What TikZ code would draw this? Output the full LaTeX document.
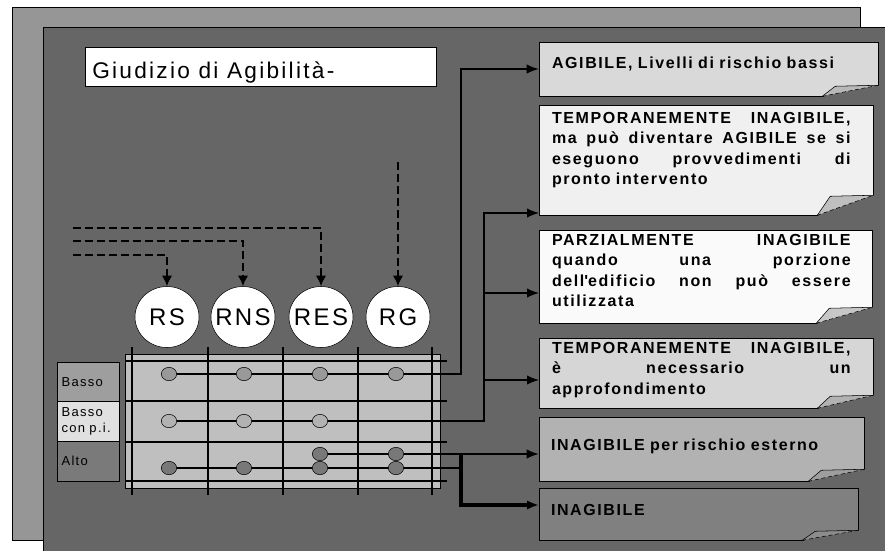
\documentclass[tikz,border=0pt]{standalone}
\usepackage{fontspec}
\setmainfont{Liberation Sans}[LetterSpace=10]
\usetikzlibrary{arrows.meta,calc,fit,shapes.geometric}

% curled lower right corner of a result box: node, curl height, flap colour
\newcommand\curl[3]{%
  \fill[black!60] ($(#1.south east)+(-56,2)$) -- ($(#1.south east)+(-43,-#2)$) -- ($(#1.south east)+(2,-#2-1)$) -- ($(#1.south east)+(2,2)$) -- cycle;
  \fill[#3] ($(#1.south east)+(-56,0)$) -- ($(#1.south east)+(-43,-#2)$) -- ($(#1.south east)+(0,-#2-1)$) -- cycle;
  \draw ($(#1.south east)+(-56,0)$) -- ($(#1.south east)+(-43,-#2)$) -- ($(#1.south east)+(0,-#2-1)$);
  \draw[densely dashed] ($(#1.south east)+(-56,0)$) -- ($(#1.south east)+(0,-#2-1)$);
}

\begin{document}
\begin{tikzpicture}[x=0.75pt,y=-0.75pt,>={Latex[length=9pt,width=7pt]},
  result/.style={draw,fill=#1,inner sep=0pt},
  resulttext/.style={anchor=north west,inner sep=0pt,text width=224pt,align=left,
    font=\fontsize{12}{15.4}\selectfont\bfseries},
  risk/.style={ellipse,draw,fill=white,minimum width=48pt,minimum height=45.75pt,
    inner sep=0pt,font=\fontsize{18}{20}\selectfont},
  level/.style={draw,fill=#1,anchor=north west,minimum width=46.5pt,inner xsep=3.25pt,
    text width=40pt,align=left,font=\fontsize{9.75}{12}\selectfont},
  dot/.style={ellipse,draw,fill=#1,minimum width=11.5pt,minimum height=10pt,inner sep=0pt},
  gridline/.style={line width=0.9pt},
  wire/.style={line width=0.9pt},
  feed/.style={line width=2pt,dash pattern=on 6pt off 3pt,-{Latex[length=8pt,width=8pt]}}]
\useasboundingbox (0,0) rectangle (885,550);

% panels
\draw[fill=black!41] (12,7) rectangle (860,540);
\draw[fill=black!60] (43,27) rectangle (900,560);

\node[draw,fill=white,fit={(85,47) (436,86)},inner sep=0pt] (title) {};
\node[anchor=base west,inner sep=0pt,font=\fontsize{17}{20}\selectfont] (titletext) at (92,78) {Giudizio di Agibilità-};

% result boxes
\node[result=black!15,fit={(539,42) (878,96)}] (b1) {};
\curl{b1}{10}{black!28}
\node[result=black!6,fit={(539,105) (873,215)}] (b2) {};
\curl{b2}{19}{black!25}
\node[result=black!2,fit={(539,230) (872,323)}] (b3) {};
\curl{b3}{15}{black!22}
\node[result=black!16,fit={(539,338) (873,408)}] (b4) {};
\curl{b4}{12}{black!30}
\node[result=black!30,fit={(539,417) (864,481)}] (b5) {};
\curl{b5}{11}{black!38}
\node[result=black!50,fit={(539,488) (858,540)}] (b6) {};
\curl{b6}{9}{black!45}

\node[resulttext] (t1) at ($(b1.north west)+(13,15)$) {AGIBILE, Livelli di rischio bassi};
\node[resulttext] (t2) at ($(b2.north west)+(13,7)$) {TEMPORANEMENTE\hfill INAGIBILE,\\
  ma\hfill può\hfill diventare\hfill AGIBILE\hfill se\hfill si\\
  eseguono\hfill provvedimenti\hfill di\\
  pronto intervento};
\node[resulttext] (t3) at ($(b3.north west)+(13,4)$) {PARZIALMENTE\hfill INAGIBILE\\
  quando\hfill una\hfill porzione\\
  dell\textquotesingle edificio\hfill non\hfill può\hfill essere\\
  utilizzata};
\node[resulttext] (t4) at ($(b4.north west)+(13,4)$) {TEMPORANEMENTE\hfill INAGIBILE,\\
  è\hfill necessario\hfill un\\
  approfondimento};
\node[resulttext] (t5) at ($(b5.north west)+(12,22)$) {INAGIBILE per rischio esterno};
\node[resulttext] (t6) at ($(b6.north west)+(12,16)$) {INAGIBILE};

% matrix of risk levels
\node[draw,fill=black!25,fit={(125,354) (440,488)},inner sep=0pt] (matrix) {};
\foreach \x in {132,208,283,358,432}
  \draw[gridline] (\x,347) -- (\x,495);
\foreach \y in {361,401,442,481}
  \draw[gridline] (125,\y) -- (447,\y);

\node[level=black!38,minimum height=29.25pt] (basso) at (57,362) {Basso};
\node[level=black!12,minimum height=30pt] (bassopi) at (57,401) {Basso\\con p.i.};
\node[level=black!52,minimum height=30pt] (alto) at (57,441) {Alto};

% dots
\node[dot=black!40] (d11) at (169,374) {};
\node[dot=black!40] (d12) at (244,374) {};
\node[dot=black!40] (d13) at (320,374) {};
\node[dot=black!40] (d14) at (396,374) {};
\node[dot=black!30] (d21) at (169,421) {};
\node[dot=black!30] (d22) at (244,421) {};
\node[dot=black!30] (d23) at (320,421) {};
\node[dot=black!53] (u33) at (320,454) {};
\node[dot=black!53] (u34) at (396,454) {};
\node[dot=black!53] (d31) at (169,468) {};
\node[dot=black!53] (d32) at (244,468) {};
\node[dot=black!53] (d33) at (320,468) {};
\node[dot=black!53] (d34) at (396,468) {};

% wires to the results
\coordinate (j1) at (461,374);
\coordinate (j2) at (484,421);
\coordinate (j3) at (461,454);
\coordinate (e2) at (539,213);
\coordinate (e3) at (539,293);
\coordinate (e4) at (539,380);
\coordinate (e6) at (539,505);
\draw[wire,->] (d11) -- (d12) -- (d13) -- (d14) -- (j1) |- (b1);
\draw[wire,->] (d21) -- (d22) -- (d23) -- (j2) |- (e2);
\draw[wire,->] (j2 |- e3) -- (e3);
\draw[wire,->] (j2 |- e4) -- (e4);
\draw[wire,->] (u33) -- (u34) -- (u34 -| b5.west);
\draw[wire] (d31) -- (d32) -- (d33) -- (d34) -- (j3 |- d34);
\draw[line width=2.6pt,->] (j3) |- (e6);

% risk circles
\node[risk] (rs) at (167,317) {\makebox[0pt]{RS}};
\node[risk] (rns) at (243,317) {\makebox[0pt]{RNS}};
\node[risk] (res) at (321,317) {\makebox[0pt]{RES}};
\node[risk] (rg) at (398,317) {\makebox[0pt]{RG}};

\coordinate (inrs) at (73,255);
\coordinate (inrns) at (73,241);
\coordinate (inres) at (73,228);
\coordinate (inrg) at (398,162);
\draw[feed] (inrs) -| (rs);
\draw[feed] (inrns) -| (rns);
\draw[feed] (inres) -| (res);
\draw[feed] (inrg) -- (rg);
\end{tikzpicture}
\end{document}
